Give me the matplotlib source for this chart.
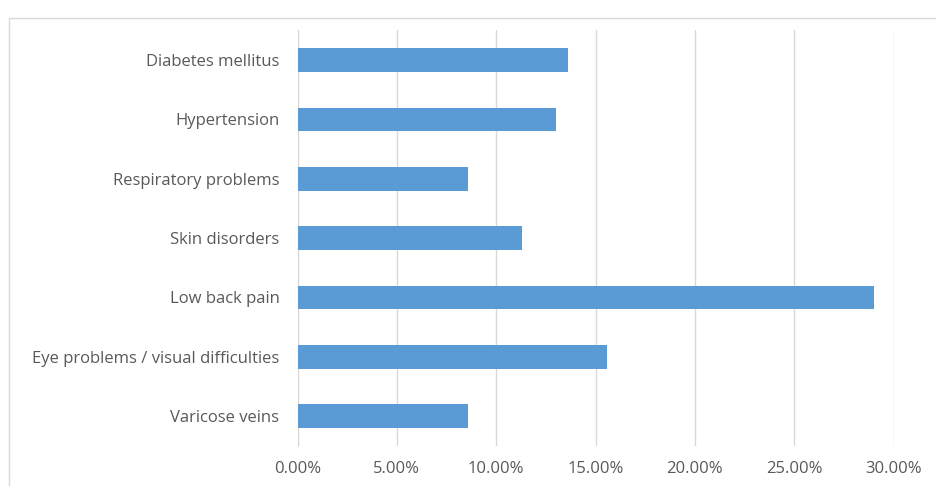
import matplotlib
matplotlib.use("Agg")
import matplotlib.pyplot as plt
from matplotlib.patches import Rectangle
from matplotlib.ticker import FuncFormatter

conditions = [
    "Diabetes mellitus",
    "Hypertension",
    "Respiratory problems",
    "Skin disorders",
    "Low back pain",
    "Eye problems / visual difficulties",
    "Varicose veins",
]
share = [13.6, 13.0, 8.6, 11.3, 29.0, 15.6, 8.6]
x_ticks = [0, 5, 10, 15, 20, 25, 30]

plt.rcParams["font.family"] = ["Open Sans", "DejaVu Sans"]

fig = plt.figure(figsize=(9.36, 4.86), dpi=100)
fig.patches.append(
    Rectangle((9 / 936, -0.1), 1.2, 1 - 18 / 486 + 0.1,
              transform=fig.transFigure, fill=False,
              edgecolor="#d9d9d9", linewidth=1.0)
)

ax = fig.add_axes([297.5 / 936, 1 - 445.7 / 486, 596 / 936, 415.3 / 486])
y = range(len(conditions))
ax.barh(y, share, height=0.4, color="#5b9bd5", zorder=3)

ax.set_xlim(0, 30)
ax.set_ylim(len(conditions) - 0.5, -0.5)
ax.set_xticks(x_ticks)
ax.xaxis.set_major_formatter(FuncFormatter(lambda v, _: f"{v:.2f}%"))
ax.set_yticks(list(y), conditions)

ax.set_axisbelow(True)
ax.grid(axis="x", color="#d9d9d9", linewidth=1.0)
for side in ("top", "right", "bottom"):
    ax.spines[side].set_visible(False)
ax.spines["left"].set_color("#d9d9d9")
ax.tick_params(length=0, colors="#595959")
ax.tick_params(axis="y", pad=13, labelsize=12)
ax.tick_params(axis="x", pad=11, labelsize=12)

fig.savefig("out.png", dpi=100)
